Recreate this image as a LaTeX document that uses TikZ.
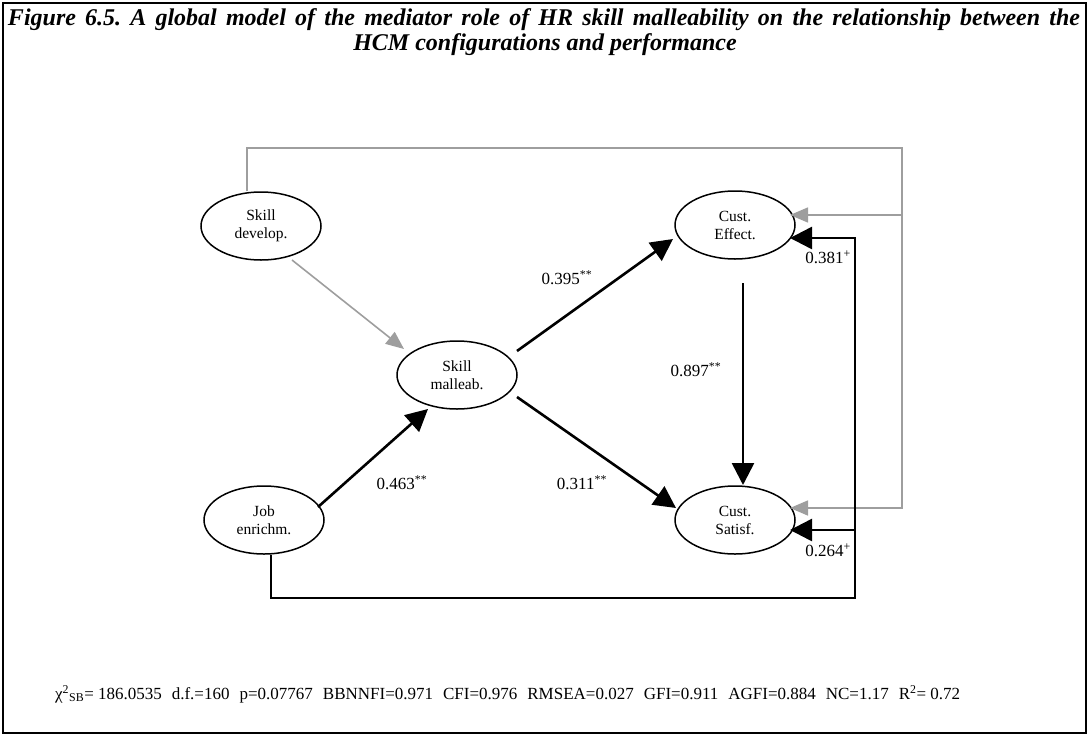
\documentclass[tikz,border=0pt]{standalone}
\usepackage{fontspec}
\setmainfont{Liberation Serif}
\usetikzlibrary{arrows.meta,shapes.geometric}
\definecolor{pathgray}{gray}{0.62}
\frenchspacing
\begin{document}
\begin{tikzpicture}[x=1pt,y=-1pt,
  latent/.style={draw, line width=1.5pt, ellipse, minimum width=120pt, minimum height=68pt,
    inner sep=0pt, align=center, font=\fontsize{15.5}{18}\selectfont},
  blk/.style={line width=2.6pt, -{Triangle[length=22pt,width=22pt]}},
  gry/.style={draw=pathgray, line width=1.6pt, -{Triangle[length=18pt,width=15pt]}},
  coef/.style={font=\fontsize{17}{20}\selectfont, inner sep=0pt},
  caption/.style={font=\fontsize{24}{26}\selectfont\bfseries\itshape, inner sep=0pt}]
\useasboundingbox (0,0) rectangle (1089,736);
% outer frame
\draw[line width=2pt] (3,3) rectangle (1086,733);

% caption, first line set full width
\node[caption] (title1) at (544,20)
  {\makebox[1072pt][s]{Figure 6.5. A global model of the mediator role of HR skill malleability on the relationship between the}};
\node[caption] (title2) at (545,45) {HCM configurations and performance};

% latent constructs
\node[latent] (dev) at (261,226) {Skill\\develop.};
\node[latent] (mal) at (457,375) {Skill\\malleab.};
\node[latent] (job) at (264,520) {Job\\enrichm.};
\node[latent] (eff) at (735,225) {Cust.\\Effect.};
\node[latent] (sat) at (735,520) {Cust.\\Satisf.};

% entry points on the right of the outcome constructs
\coordinate (effG) at ([shift={(55,-10)}]eff.center);
\coordinate (effB) at ([shift={(55,13)}]eff.center);
\coordinate (satG) at ([shift={(55,-12)}]sat.center);
\coordinate (satB) at ([shift={(55,10)}]sat.center);

% gray paths
\draw[gry] ([shift={(31,34)}]dev.center) -- ([shift={(-53,-26)}]mal.center);
\coordinate (gtop) at (902,148);
\draw[gry] ([xshift=-14pt]dev.north) |- (gtop) |- (satG);
\draw[gry] (gtop |- effG) -- (effG);

% structural paths
\draw[blk] ([shift={(54,-13)}]job.center) -- ([shift={(-29,34)}]mal.center);
\draw[blk] ([shift={(60,-24)}]mal.center) -- ([shift={(-62,14)}]eff.center);
\draw[blk] ([shift={(60,22)}]mal.center) -- ([shift={(-59,-12)}]sat.center);
\draw[blk] ([shift={(8,58)}]eff.center) -- ([shift={(8,-35)}]sat.center);
\coordinate (bcorner) at (855,598);
\draw[blk] ([xshift=7pt]job.south) |- (bcorner) |- (effB);
\draw[blk] (bcorner |- satB) -- (satB);

% coefficients
\node[coef] (c1) at (567,278) {0.395\textsuperscript{**}};
\node[coef] (c2) at (696,370) {0.897\textsuperscript{**}};
\node[coef] (c3) at (582,483) {0.311\textsuperscript{**}};
\node[coef] (c4) at (402,483) {0.463\textsuperscript{**}};
\node[coef] (c5) at (828,257) {0.381\textsuperscript{+}};
\node[coef] (c6) at (828,550) {0.264\textsuperscript{+}};

% fit statistics
\node[anchor=west, inner sep=0pt, font=\fontsize{17}{20}\selectfont] (fit) at (55,694)
  {χ\textsuperscript{2}\textsubscript{SB}= 186.0535\hspace{10pt}d.f.=160\hspace{10pt}p=0.07767\hspace{10pt}BBNNFI=0.971\hspace{10pt}CFI=0.976\hspace{10pt}RMSEA=0.027\hspace{10pt}GFI=0.911\hspace{10pt}AGFI=0.884\hspace{10pt}NC=1.17\hspace{10pt}R\textsuperscript{2}= 0.72};
\end{tikzpicture}
\end{document}
